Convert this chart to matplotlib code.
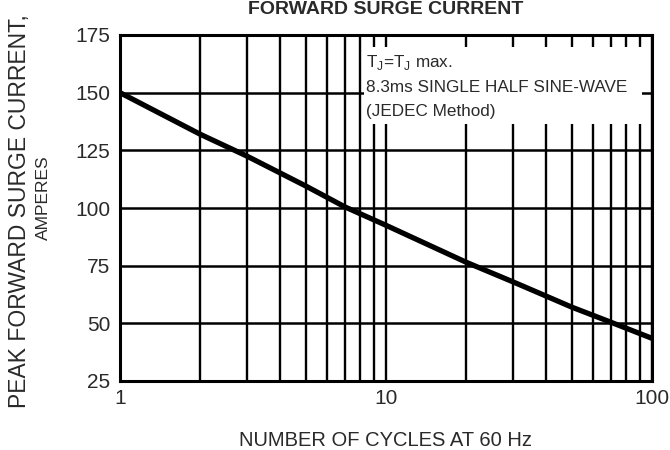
import matplotlib
matplotlib.use("Agg")
import matplotlib.pyplot as plt
from matplotlib.patches import Rectangle
from matplotlib.ticker import LogLocator, NullFormatter, FixedLocator, FixedFormatter

plt.rcParams['font.family'] = ['Liberation Sans', 'DejaVu Sans']

# values
cycles = [1, 2, 3, 5, 7, 10, 20, 30, 50, 70, 100]
current = [150, 132, 122.5, 109.5, 100.5, 92.5, 76.5, 68, 57, 50.5, 43.5]

y_ticks = [25, 50, 75, 100, 125, 150, 175]
x_ticks = [1, 10, 100]
x_tick_labels = ['1', '10', '100']

txt_col = '#2a2a2a'

fig = plt.figure(figsize=(6.7, 4.5), dpi=100)
ax = fig.add_axes([120 / 670, 69 / 450, 532 / 670, 346 / 450])

ax.set_xscale('log')
ax.set_xlim(1, 100)
ax.set_ylim(25, 175)
ax.set_axisbelow(True)

ax.xaxis.set_major_locator(FixedLocator(x_ticks))
ax.xaxis.set_major_formatter(FixedFormatter(x_tick_labels))
ax.xaxis.set_minor_locator(LogLocator(base=10, subs=range(2, 10)))
ax.xaxis.set_minor_formatter(NullFormatter())
ax.set_yticks(y_ticks)

ax.grid(which='both', axis='x', color='black', lw=1.7)
ax.grid(which='major', axis='y', color='black', lw=1.8)
ax.tick_params(which='both', length=0)
ax.tick_params(axis='x', pad=6, labelsize=15, labelcolor=txt_col)
ax.tick_params(axis='y', pad=7, labelsize=15, labelcolor=txt_col)
for sp in ax.spines.values():
    sp.set_linewidth(2.2)

# white box behind the note
ax.add_patch(Rectangle((8.3, 136.5), 91.6 - 8.3, 170 - 136.5,
                       facecolor='white', edgecolor='none', zorder=1))

ax.plot(cycles, current, color='black', lw=3.8, zorder=3, solid_capstyle='butt')

ax.text(0.463, 0.92, 'T$_{\\mathregular{J}}$=T$_{\\mathregular{J}}$ max.', transform=ax.transAxes,
        fontsize=12.3, color=txt_col, va='center', ha='left', zorder=4)
ax.text(0.463, 0.847, '8.3ms SINGLE HALF SINE-WAVE', transform=ax.transAxes,
        fontsize=12.3, color=txt_col, va='center', ha='left', zorder=4)
ax.text(0.463, 0.78, '(JEDEC Method)', transform=ax.transAxes,
        fontsize=12.3, color=txt_col, va='center', ha='left', zorder=4)

fig.text(386 / 670, 1 - 9 / 450, 'FORWARD SURGE CURRENT', ha='center', va='center',
         fontsize=14, fontweight='bold', color=txt_col)
fig.text(386 / 670, 1 - 440 / 450, 'NUMBER OF CYCLES AT 60 Hz', ha='center', va='center',
         fontsize=14.5, color=txt_col)
fig.text(20 / 670, 1 - 211 / 450, 'PEAK FORWARD SURGE CURRENT,', ha='center', va='center',
         rotation=90, fontsize=16.5, color=txt_col)
fig.text(43 / 670, 1 - 198 / 450, 'AMPERES', ha='center', va='center',
         rotation=90, fontsize=12.5, color=txt_col)

fig.savefig('out.png', dpi=100)
